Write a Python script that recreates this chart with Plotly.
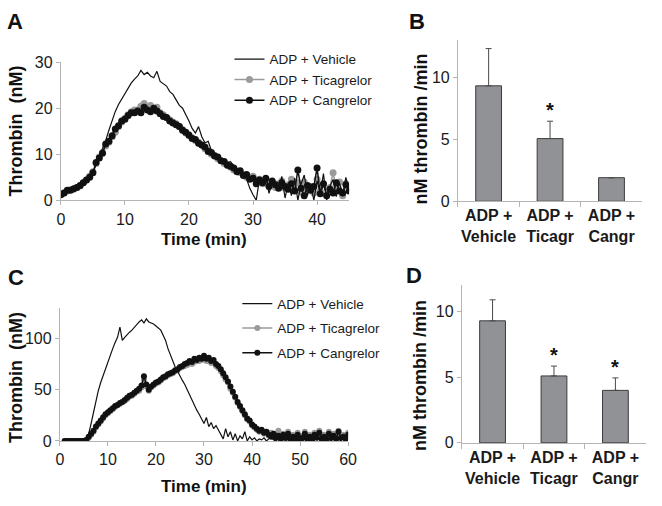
import plotly.graph_objects as go

W, H = 662, 506

# ---------------- data ----------------
# Panel A: thrombin (nM), sampled every 0.5 min starting at 0 min
a_start = 0.0
a_vehicle = [1.2, 1.5, 1.9, 2.2, 2.4, 2.7, 3.1, 3.7, 4.3, 5.0,
             6.0, 7.8, 9.3, 11.0, 13.0, 15.2, 17.5, 19.3, 20.8, 22.0,
             23.2, 24.3, 25.5, 26.3, 27.0, 28.2, 27.3, 27.8, 27.0, 26.6,
             28.0, 25.8, 25.2, 24.8, 23.6, 23.0, 21.8, 20.6, 20.0, 18.7,
             17.2, 15.6, 14.6, 16.0, 13.8, 12.5, 12.8, 10.8, 10.3, 9.4,
             9.0, 8.8, 8.2, 8.4, 7.4, 6.8, 6.2, 5.4, 4.6, 2.6,
             1.2, 0.0, 4.5, 3.2, 5.0, 1.5, 4.0, 3.0, 2.2, 5.2,
             0.5, 3.8, 1.0, 4.8, 0.0, 3.5, 5.5, 1.0, 3.6, 0.0,
             4.2, 1.5, 5.8, 0.0, 3.0, 4.5, 0.8, 3.8, 1.2, 5.0, 2.0]
a_ticagrelor = [1.4, 1.6, 2.0, 2.3, 2.4, 2.8, 3.1, 3.8, 4.4, 5.2,
                6.2, 8.0, 9.4, 10.4, 11.8, 12.6, 13.8, 14.8, 16.0, 17.0,
                17.8, 18.6, 19.2, 19.6, 19.6, 20.4, 21.0, 20.2, 20.6, 19.8,
                20.2, 19.0, 18.6, 18.0, 17.5, 17.0, 16.6, 16.0, 15.4, 14.6,
                14.0, 13.6, 13.0, 12.6, 12.0, 11.2, 10.8, 10.0, 9.8, 9.0,
                8.6, 8.0, 7.8, 7.2, 6.6, 6.4, 6.0, 5.6, 5.0, 4.8,
                5.2, 4.2, 4.6, 3.6, 4.4, 3.2, 4.0, 2.8, 3.6, 4.2,
                2.6, 3.4, 4.6, 2.2, 3.8, 1.8, 4.0, 2.4, 3.0, 1.6,
                4.6, 2.0, 3.4, 1.2, 2.8, 6.0, 2.4, 4.0, 1.0, 3.6, 2.6]
a_cangrelor = [1.2, 1.6, 2.2, 2.2, 2.5, 2.8, 3.2, 3.8, 4.4, 5.0,
               6.0, 8.2, 9.2, 10.2, 12.2, 12.8, 14.0, 15.5, 16.2, 17.2,
               17.6, 18.4, 19.0, 19.0, 19.4, 19.0, 20.2, 19.6, 19.2, 20.0,
               19.4, 18.8, 18.2, 18.0, 17.2, 16.8, 16.4, 16.0, 15.2, 14.8,
               14.2, 13.4, 13.2, 12.4, 12.0, 11.6, 10.6, 10.4, 9.6, 9.4,
               8.6, 8.4, 7.6, 7.4, 7.0, 6.2, 6.4, 5.4, 5.6, 4.6,
               4.8, 3.6, 4.4, 3.8, 4.8, 3.0, 4.2, 3.4, 2.6, 3.8,
               3.0, 2.4, 3.6, 2.0, 6.6, 2.6, 1.0, 3.2, 2.2, 3.0,
               7.0, 1.4, 3.6, 1.0, 2.4, 1.6, 3.8, 2.0, 1.6, 3.4, 2.0]

# Panel C: thrombin (nM), sampled every 0.5 min starting at 1 min
c_start = 1.0
c_vehicle = [0, 0, 0, 0, 0, 0, 0, 0, 0.2, 1.5,
             7, 17, 28, 39, 49, 57, 64, 71, 77, 84,
             90, 96, 101, 111, 98, 101, 104, 106, 108, 111,
             113, 116, 118, 115, 119, 116, 115, 114, 112, 110,
             108, 103, 98, 90, 84, 77, 72, 68, 63, 59,
             55, 50, 44, 40, 34, 30, 26, 21, 17, 23,
             14, 18, 12, 15, 11, 6, 2, 12, 4, 9,
             1, 7, 0, 5, 2, 9, 0, 4, 1, 3,
             0, 2, 1, 3, 0, 2, 4, 1, 0, 3,
             1, 2, 0, 4, 1, 2, 0, 3, 1, 0,
             2, 4, 1, 0, 3, 1, 2, 0, 3, 1,
             2, 0, 4, 1, 2, 0, 3, 1, 2]
c_ticagrelor = [0, 0, 0, 0, 0, 0, 0, 0, 0, 1,
                3, 6, 9, 13, 16, 19, 22, 25, 27, 29,
                31, 33, 35, 36, 38, 39, 41, 43, 44, 46,
                48, 49, 52, 60, 53, 49, 52, 54, 56, 57,
                59, 61, 62, 64, 65, 66, 68, 69, 71, 72,
                73, 74, 76, 75, 77, 78, 78, 79, 80, 78,
                78, 76, 76, 73, 71, 68, 64, 60, 57, 51,
                47, 42, 37, 33, 29, 25, 21, 19, 15, 13,
                11, 9, 10, 7, 9, 5, 8, 4, 6, 10,
                3, 7, 4, 9, 2, 6, 3, 8, 2, 5,
                9, 3, 6, 2, 8, 4, 10, 3, 6, 2,
                9, 4, 7, 3, 10, 4, 6, 3, 8]
c_cangrelor = [0, 0, 0, 0, 0, 0, 0, 0, 0, 1,
               4, 7, 10, 14, 17, 20, 23, 26, 28, 30,
               32, 34, 35, 37, 38, 40, 42, 44, 45, 47,
               49, 51, 54, 63, 55, 50, 53, 55, 57, 58,
               60, 62, 63, 65, 66, 67, 69, 70, 72, 73,
               75, 76, 78, 77, 80, 79, 81, 80, 83, 80,
               81, 78, 79, 75, 73, 70, 66, 62, 58, 53,
               48, 43, 38, 34, 30, 26, 22, 20, 16, 14,
               12, 10, 11, 8, 9, 6, 4, 7, 3, 5,
               2, 6, 3, 7, 1, 4, 2, 6, 1, 3,
               7, 2, 4, 1, 6, 3, 8, 2, 4, 1,
               7, 3, 5, 2, 9, 3, 4, 2, 6]

# Panels B and D: rate (nM thrombin / min), mean and upper error
bar_categories = ["ADP +<br>Vehicle", "ADP +<br>Ticagr", "ADP +<br>Cangr"]
b_means = [9.3, 5.05, 1.9]
b_errors = [3.0, 1.4, 0.0]
b_significant = [False, True, False]
d_means = [9.3, 5.1, 4.0]
d_errors = [1.6, 0.75, 0.95]
d_significant = [False, True, True]

legend_names = ["ADP + Vehicle", "ADP + Ticagrelor", "ADP + Cangrelor"]


def times(start, values):
    return [start + 0.5 * i for i in range(len(values))]


# ---------------- styling helpers ----------------
FONT = "Arial, 'Liberation Sans', sans-serif"
AXIS_GREY = "#b4b4b4"
TXT = "#1a1a1a"


def px_x(p):
    return p / W


def px_y(p):
    return 1 - p / H


fig = go.Figure()

# ---- line panels (A -> axes 1, C -> axes 3)
for (xa, ya, legend, start, veh, tic, can, msize) in [
    ("x", "y", "legend", a_start, a_vehicle, a_ticagrelor, a_cangrelor, 7),
    ("x3", "y3", "legend2", c_start, c_vehicle, c_ticagrelor, c_cangrelor, 6),
]:
    fig.add_trace(go.Scatter(
        x=times(start, tic), y=tic, xaxis=xa, yaxis=ya, legend=legend,
        name=legend_names[1], legendrank=2, legendgroup=legend + "t",
        mode="lines+markers", line=dict(color="#9a9a9a", width=1.5),
        marker=dict(color="#9a9a9a", size=msize)))
    fig.add_trace(go.Scatter(
        x=times(start, can), y=can, xaxis=xa, yaxis=ya, legend=legend,
        name=legend_names[2], legendrank=3, legendgroup=legend + "c",
        mode="lines+markers", line=dict(color="#111111", width=1.5),
        marker=dict(color="#111111", size=msize)))
    fig.add_trace(go.Scatter(
        x=times(start, veh), y=veh, xaxis=xa, yaxis=ya, legend=legend,
        name=legend_names[0], legendrank=1, legendgroup=legend + "v",
        mode="lines", line=dict(color="#111111", width=1.2)))

# ---- bar panels (B -> axes 2, D -> axes 4)
for (xa, ya, means, errs) in [("x2", "y2", b_means, b_errors),
                              ("x4", "y4", d_means, d_errors)]:
    fig.add_trace(go.Bar(
        x=bar_categories, y=means, xaxis=xa, yaxis=ya, showlegend=False,
        width=0.42,
        marker=dict(color="#909296", line=dict(color="#3c3c3c", width=1)),
        error_y=dict(type="data", symmetric=False, array=errs,
                     arrayminus=[0] * len(errs), color="#4a4a4a",
                     thickness=1, width=3)))

common_axis = dict(showline=True, linecolor=AXIS_GREY, linewidth=1,
                   ticks="outside", ticklen=4, tickcolor=AXIS_GREY,
                   showgrid=False, zeroline=False,
                   tickfont=dict(family=FONT, size=16, color=TXT))
bar_xaxis = dict(common_axis)
bar_xaxis.update(type="category", range=[-0.5, 2.5], tickson="boundaries",
                 ticklen=5, tickangle=0,
                 tickfont=dict(family=FONT, size=16, color=TXT, weight="bold"))

fig.update_layout(
    width=W, height=H, margin=dict(l=0, r=0, t=0, b=0),
    paper_bgcolor="white", plot_bgcolor="white",
    font=dict(family=FONT, color=TXT),
    xaxis=dict(common_axis, domain=[px_x(58), px_x(352)], anchor="y",
               range=[0, 45], tickvals=[0, 10, 20, 30, 40]),
    yaxis=dict(common_axis, domain=[px_y(199), px_y(56)], anchor="x",
               range=[0, 30], tickvals=[0, 10, 20, 30]),
    xaxis2=dict(bar_xaxis, domain=[px_x(463), px_x(651)], anchor="y2"),
    yaxis2=dict(common_axis, domain=[px_y(200), px_y(33)], anchor="x2",
                range=[0, 13], tickvals=[0, 5, 10]),
    xaxis3=dict(common_axis, domain=[px_x(57), px_x(351)], anchor="y3",
                range=[0, 60], tickvals=[0, 10, 20, 30, 40, 50, 60]),
    yaxis3=dict(common_axis, domain=[px_y(448), px_y(310)], anchor="x3",
                range=[0, 130], tickvals=[0, 50, 100]),
    xaxis4=dict(bar_xaxis, domain=[px_x(467), px_x(655)], anchor="y4"),
    yaxis4=dict(common_axis, domain=[px_y(450), px_y(287)], anchor="x4",
                range=[0, 12], tickvals=[0, 5, 10]),
    legend=dict(x=px_x(230), y=px_y(37), xanchor="left", yanchor="top",
                bgcolor="rgba(0,0,0,0)", borderwidth=0, itemwidth=30,
                tracegroupgap=0,
                font=dict(family=FONT, size=13.5, color=TXT)),
    legend2=dict(x=px_x(238), y=px_y(290), xanchor="left", yanchor="top",
                 bgcolor="rgba(0,0,0,0)", borderwidth=0, itemwidth=30,
                 tracegroupgap=4,
                 font=dict(family=FONT, size=13.5, color=TXT)),
)

annotations = []
# panel letters
for letter, x, y in [("A", 11, 14), ("B", 421, 14), ("C", 12, 279), ("D", 418, 277)]:
    annotations.append(dict(text=letter, x=px_x(x), y=px_y(y), xref="paper",
                            yref="paper", showarrow=False, xanchor="center",
                            yanchor="middle",
                            font=dict(family=FONT, size=22, color="#111",
                                      weight="bold")))
# axis titles
for text, x, y in [("Time (min)", 204, 240), ("Time (min)", 204, 495)]:
    annotations.append(dict(text=text, x=px_x(x), y=px_y(y), xref="paper",
                            yref="paper", showarrow=False, xanchor="center",
                            yanchor="middle",
                            font=dict(family=FONT, size=17, color="#111",
                                      weight="bold")))
for text, x, y in [("Thrombin  (nM)", 12, 127), ("Thrombin  (nM)", 12, 382),
                   ("nM thrombin /min", 425, 125),
                   ("nM thrombin /min", 425, 380)]:
    annotations.append(dict(text=text, x=px_x(x), y=px_y(y), xref="paper",
                            yref="paper", showarrow=False, xanchor="center",
                            yanchor="middle", textangle=-90,
                            font=dict(family=FONT, size=18, color="#111",
                                      weight="bold")))
# significance stars
for (xr, yr, means, errs, sig) in [("x2", "y2", b_means, b_errors, b_significant),
                                   ("x4", "y4", d_means, d_errors, d_significant)]:
    for cat, m, e, s in zip(bar_categories, means, errs, sig):
        if s:
            annotations.append(dict(text="*", x=cat, y=m + e, xref=xr, yref=yr,
                                    showarrow=False, xanchor="center",
                                    yanchor="bottom", yshift=-2,
                                    font=dict(family=FONT, size=20,
                                              color="#111", weight="bold")))
fig.update_layout(annotations=annotations)

# remove the browser's default 8px body margin so the figure fills the window
fig.write_html("out.html",
               config={"displayModeBar": False},
               post_script="document.body.style.margin='0';"
                           "document.body.style.overflow='hidden';")
